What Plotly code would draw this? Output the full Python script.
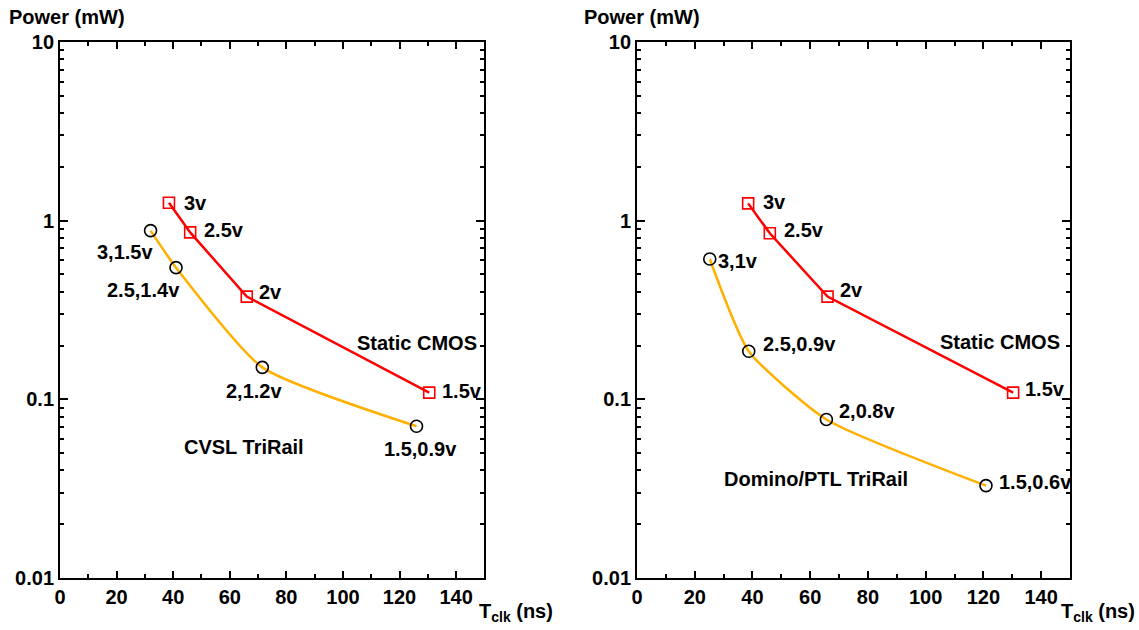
import math
import plotly.graph_objects as go

# ---------------- data ----------------
cmos_left_x = [38.5, 46.0, 66.0, 130.5]
cmos_left_y = [1.26, 0.86, 0.376, 0.109]
cmos_left_labels = ["3v", "2.5v", "2v", "1.5v"]

cvsl_x = [32.0, 41.0, 71.5, 126.0]
cvsl_y = [0.88, 0.546, 0.151, 0.0707]
cvsl_labels = ["3,1.5v", "2.5,1.4v", "2,1.2v", "1.5,0.9v"]

cmos_right_x = [38.5, 46.0, 66.0, 130.3]
cmos_right_y = [1.25, 0.85, 0.376, 0.109]
cmos_right_labels = ["3v", "2.5v", "2v", "1.5v"]

domino_x = [25.2, 38.7, 65.6, 120.9]
domino_y = [0.61, 0.186, 0.0772, 0.0329]
domino_labels = ["3,1v", "2.5,0.9v", "2,0.8v", "1.5,0.6v"]

x_ticks = [0, 20, 40, 60, 80, 100, 120, 140]
y_ticks = [0.01, 0.1, 1, 10]
y_tick_text = ["0.01", "0.1", "1", "10"]

RED = "#FF0000"
ORANGE = "#FFB000"
FONT = "Liberation Sans, Arial, sans-serif"

fig = go.Figure()

def add_series(x, y, xa, ya, color, symbol, mcolor, shape, msize):
    fig.add_trace(go.Scatter(
        x=x, y=y, xaxis=xa, yaxis=ya, mode="lines",
        line=dict(color=color, width=2.5, shape=shape, smoothing=0.55),
        hoverinfo="skip", showlegend=False))
    fig.add_trace(go.Scatter(
        x=x, y=y, xaxis=xa, yaxis=ya, mode="markers",
        marker=dict(symbol=symbol, size=msize, color="rgba(0,0,0,0)",
                    line=dict(color=mcolor, width=1.6)),
        showlegend=False))

add_series(cvsl_x, cvsl_y, "x", "y", ORANGE, "circle", "black", "spline", 12)
add_series(cmos_left_x, cmos_left_y, "x", "y", RED, "square", RED, "linear", 11)
add_series(domino_x, domino_y, "x2", "y2", ORANGE, "circle", "black", "spline", 12)
add_series(cmos_right_x, cmos_right_y, "x2", "y2", RED, "square", RED, "linear", 11)

ann_font = dict(family=FONT, size=20, color="black", weight="bold")

def label(x, y, text, xr, yr, xanchor, yanchor, xs, ys):
    fig.add_annotation(x=x, y=math.log10(y), xref=xr, yref=yr, text=text, showarrow=False,
                       xanchor=xanchor, yanchor=yanchor, xshift=xs, yshift=ys,
                       font=ann_font)

# left panel labels (CMOS: right of point)
cl_off = [(13, 0), (12, 2), (10, 5), (11, 2)]
for xv, yv, t, (xs, ys) in zip(cmos_left_x, cmos_left_y, cmos_left_labels, cl_off):
    label(xv, yv, t, "x", "y", "left", "middle", xs, ys)
# CVSL labels
cv_off = [("right", 4, -21), ("right", 6, -22), ("center", -8, -24), ("center", 4, -23)]
for xv, yv, t, (xa, xs, ys) in zip(cvsl_x, cvsl_y, cvsl_labels, cv_off):
    label(xv, yv, t, "x", "y", xa, "middle", xs, ys)
label(126, 0.207, "Static CMOS", "x", "y", "center", "middle", 0, 0)
label(65, 0.054, "CVSL TriRail", "x", "y", "center", "middle", 0, 0)

# right panel labels
cr_off = [(13, 1), (12, 3), (10, 7), (10, 4)]
for xv, yv, t, (xs, ys) in zip(cmos_right_x, cmos_right_y, cmos_right_labels, cr_off):
    label(xv, yv, t, "x2", "y2", "left", "middle", xs, ys)
dm_off = [(6, -2), (12, 7), (11, 8), (11, 4)]
for xv, yv, t, (xs, ys) in zip(domino_x, domino_y, domino_labels, dm_off):
    label(xv, yv, t, "x2", "y2", "left", "middle", xs, ys)
label(125.8, 0.21, "Static CMOS", "x2", "y2", "center", "middle", 0, 0)
label(62, 0.036, "Domino/PTL TriRail", "x2", "y2", "center", "middle", 0, 0)

# axis titles
title_font = dict(family=FONT, size=20, color="black", weight="bold")
for xp in [0.006, 0.511]:
    fig.add_annotation(x=xp, y=0.973, xref="paper", yref="paper", text="Power (mW)",
                       showarrow=False, xanchor="left", yanchor="middle", font=title_font)
for xp in [0.487, 0.998]:
    fig.add_annotation(x=xp, y=0.028, xref="paper", yref="paper",
                       text="T<sub>clk</sub> (ns)",
                       showarrow=False, xanchor="right", yanchor="middle", font=title_font)

tick_font = dict(family=FONT, size=20, color="black", weight="bold")

def xaxis(domain, anchor):
    return dict(domain=domain, anchor=anchor, range=[0, 150], tickvals=x_ticks,
                automargin=False,
                ticks="inside", ticklen=7, tickwidth=1.5, tickcolor="black",
                showline=True, linecolor="black", linewidth=2, mirror="allticks",
                showgrid=False, zeroline=False, tickfont=tick_font,
                minor=dict(ticks="inside", ticklen=4, tickwidth=1.5, tickcolor="black",
                           dtick=10, showgrid=False))

def yaxis(domain, anchor):
    return dict(domain=domain, anchor=anchor, type="log", range=[-2, 1],
                tickvals=y_ticks, ticktext=y_tick_text, automargin=False,
                ticks="inside", ticklen=8, tickwidth=1.5, tickcolor="black",
                showline=True, linecolor="black", linewidth=2, mirror="allticks",
                showgrid=False, zeroline=False, tickfont=tick_font,
                minor=dict(ticks="inside", ticklen=4, tickwidth=1.5, tickcolor="black",
                           dtick="D1", showgrid=False))

y_dom = [0.0825, 0.9333]
fig.update_layout(
    width=1139, height=630,
    margin=dict(l=0, r=0, t=0, b=0, autoexpand=False),
    paper_bgcolor="white", plot_bgcolor="white",
    font=dict(family=FONT),
    xaxis=xaxis([0.0527, 0.4253], "y"),
    yaxis=yaxis(y_dom, "x"),
    xaxis2=xaxis([0.5593, 0.9394], "y2"),
    yaxis2=yaxis(y_dom, "x2"),
)

fig.write_html("out.html")
